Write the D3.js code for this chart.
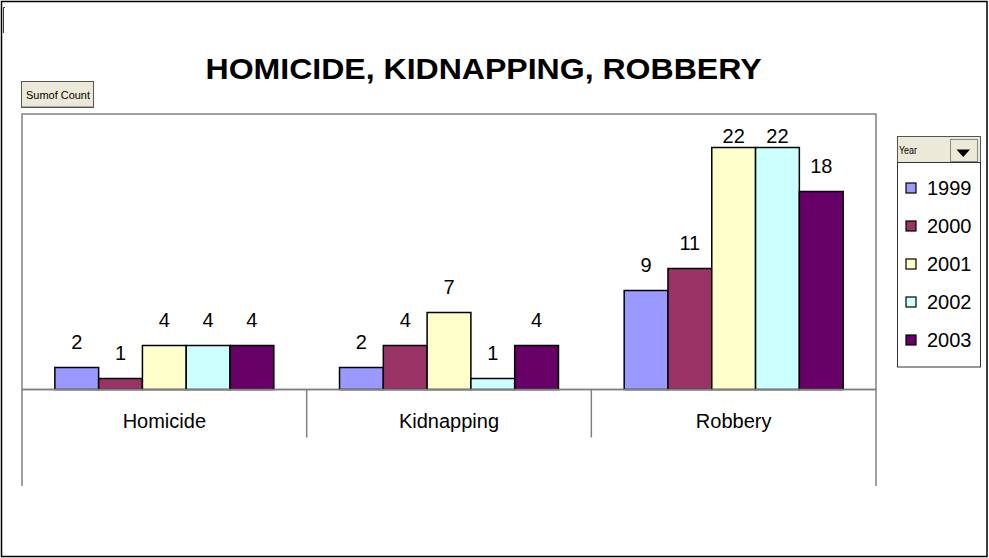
<!DOCTYPE html>
<html>
<head>
<meta charset="utf-8">
<script src="https://cdn.jsdelivr.net/npm/d3@7"></script>
<style>
  html, body { margin: 0; padding: 0; background: #fff; }
  svg { display: block; font-family: Arial, "Liberation Sans", sans-serif; }
</style>
</head>
<body>
<svg id="chart" width="989" height="558"></svg>
<script>
const categories = ["Homicide", "Kidnapping", "Robbery"];
const years = ["1999", "2000", "2001", "2002", "2003"];
const values1999 = [2, 2, 9];
const values2000 = [1, 4, 11];
const values2001 = [4, 7, 22];
const values2002 = [4, 1, 22];
const values2003 = [4, 4, 18];
const seriesValues = [values1999, values2000, values2001, values2002, values2003];
const colors = ["#9999FF", "#993366", "#FFFFCC", "#CCFFFF", "#660066"];
const yDomain = [0, 25];
const title = "HOMICIDE, KIDNAPPING, ROBBERY";

(function () {
const svg = d3.select("#chart");

// outer chart border
svg.append("rect").attr("x", 1.5).attr("y", 1.5).attr("width", 985.5).attr("height", 555)
  .attr("fill", "#fff").attr("stroke", "#000").attr("stroke-width", 1.5);
// small bracket top-left
svg.append("path").attr("d", "M5,7.5 H3.5 V33").attr("fill", "none").attr("stroke", "#333").attr("stroke-width", 1);

// title
svg.append("text").attr("x", 483.5).attr("y", 79).attr("text-anchor", "middle")
  .attr("font-size", 30).attr("font-weight", "bold").attr("fill", "#000")
  .attr("textLength", 556).attr("lengthAdjust", "spacingAndGlyphs").text(title);

// Sum of Count button
const btn = svg.append("g");
btn.append("rect").attr("x", 21.5).attr("y", 81.5).attr("width", 72).attr("height", 26)
  .attr("fill", "#ECE9D8").attr("stroke", "#555").attr("stroke-width", 1);
btn.append("line").attr("x1", 22).attr("x2", 93).attr("y1", 106.5).attr("y2", 106.5).attr("stroke", "#aaa");
btn.append("text").attr("x", 26).attr("y", 99).attr("font-size", 11.5)
  .attr("textLength", 64).attr("lengthAdjust", "spacingAndGlyphs").attr("fill", "#000").text("Sumof Count");

// plot geometry
const pLeft = 22, pRight = 876, pTop = 114.5, pBase = 389.5;
const x = d3.scaleBand().domain(categories).range([pLeft, pRight]).paddingInner(0).paddingOuter(0);
const xs = d3.scaleBand().domain(years).range([0, x.bandwidth()]).paddingInner(0).paddingOuter(0.75);
const y = d3.scaleLinear().domain(yDomain).range([pBase, pTop]);

// plot area frame
svg.append("rect").attr("x", pLeft).attr("y", pTop - 0.5).attr("width", pRight - pLeft).attr("height", pBase - pTop + 0.5)
  .attr("fill", "#fff").attr("stroke", "#808080").attr("stroke-width", 1.5);

// bars
const groups = svg.append("g").selectAll("g").data(years).join("g")
  .attr("fill", (d, i) => colors[i]);
groups.selectAll("rect").data((d, i) => categories.map((c, j) => ({ c, yr: d, v: seriesValues[i][j] })))
  .join("rect")
  .attr("x", d => x(d.c) + xs(d.yr))
  .attr("y", d => y(d.v))
  .attr("width", xs.bandwidth())
  .attr("height", d => pBase - y(d.v))
  .attr("stroke", "#000").attr("stroke-width", 1.5);

// data labels (kept inside the plot area near the top)
const labelMinY = pTop + 28.5;
groups.selectAll("text").data((d, i) => categories.map((c, j) => ({ c, yr: d, v: seriesValues[i][j] })))
  .join("text")
  .attr("x", d => x(d.c) + xs(d.yr) + xs.bandwidth() / 2)
  .attr("y", d => Math.max(y(d.v) - 19, labelMinY))
  .attr("text-anchor", "middle").attr("font-size", 20).attr("fill", "#000")
  .text(d => d.v);

// category axis
const axisG = svg.append("g").attr("stroke", "#808080").attr("stroke-width", 1.5);
axisG.append("line").attr("x1", pLeft).attr("x2", pRight).attr("y1", pBase).attr("y2", pBase);
const edges = categories.map(c => x(c)).concat([pRight]);
edges.forEach((ex, i) => {
  const outer = (i === 0 || i === edges.length - 1);
  axisG.append("line").attr("x1", ex).attr("x2", ex).attr("y1", pBase).attr("y2", outer ? 486 : 437.5);
});
svg.append("g").selectAll("text").data(categories).join("text")
  .attr("x", d => x(d) + x.bandwidth() / 2).attr("y", 428)
  .attr("text-anchor", "middle").attr("font-size", 20).attr("fill", "#000").text(d => d);

// Year field button
const yb = svg.append("g");
yb.append("rect").attr("x", 897.5).attr("y", 136.5).attr("width", 83).attr("height", 26)
  .attr("fill", "#ECE9D8").attr("stroke", "#555").attr("stroke-width", 1);
yb.append("text").attr("x", 899).attr("y", 154).attr("font-size", 11)
  .attr("textLength", 18).attr("lengthAdjust", "spacingAndGlyphs").attr("fill", "#000").text("Year");
yb.append("rect").attr("x", 950.5).attr("y", 139.5).attr("width", 27).attr("height", 22)
  .attr("fill", "#ECE9D8").attr("stroke", "#888").attr("stroke-width", 1);
yb.append("path").attr("d", "M956.5,149.5 H970 L963.25,157 Z").attr("fill", "#000");

// legend
const legendY = d3.scalePoint().domain(years).range([188, 340]);
svg.append("rect").attr("x", 897.5).attr("y", 162.5).attr("width", 83).attr("height", 204.5)
  .attr("fill", "#fff").attr("stroke", "#333").attr("stroke-width", 1);
const li = svg.append("g").selectAll("g").data(years).join("g")
  .attr("transform", d => `translate(0,${legendY(d)})`);
li.append("rect").attr("x", 906).attr("y", -5).attr("width", 10).attr("height", 10)
  .attr("fill", (d, i) => colors[i]).attr("stroke", "#000").attr("stroke-width", 1.2);
li.append("text").attr("x", 927).attr("y", 7).attr("font-size", 20).attr("fill", "#000").text(d => d);
})();
</script>
</body>
</html>
